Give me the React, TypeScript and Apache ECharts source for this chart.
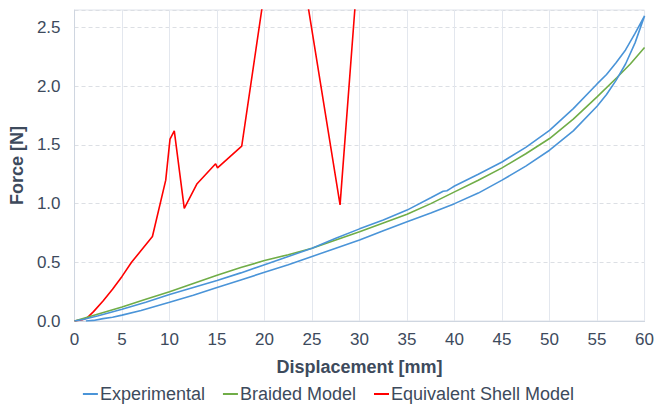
import React, { useEffect, useRef } from "react";
import * as echarts from "echarts";

// Experimental: loading branch (lower) then unloading branch (upper) back to origin
const experimentalLoading: [number, number][] = [
  [1.2, 0], [2, 0.005], [3, 0.02], [4, 0.032], [5, 0.05], [7, 0.09], [10, 0.16],
  [12.5, 0.22], [15, 0.285], [17.5, 0.35], [20, 0.415], [22.5, 0.48], [25, 0.55],
  [27.5, 0.62], [30, 0.69], [32.5, 0.77], [35, 0.845], [37.5, 0.92], [40, 1.0],
  [42.5, 1.09], [45, 1.2], [47.5, 1.32], [50, 1.455], [52.5, 1.62], [55, 1.83],
  [56, 1.93], [57, 2.05], [58, 2.19], [59, 2.37], [60, 2.6],
];
const experimentalUnloading: [number, number][] = [
  [60, 2.6], [59, 2.45], [58, 2.31], [57, 2.2], [56, 2.1], [55, 2.02], [52.5, 1.81],
  [50, 1.625], [47.5, 1.48], [45, 1.355], [42.5, 1.25], [40, 1.15], [39.6, 1.13],
  [39.2, 1.11], [38.8, 1.105], [37.5, 1.05], [35, 0.945], [32.5, 0.86], [30, 0.785],
  [27.5, 0.705], [25, 0.62], [22.5, 0.55], [20, 0.48], [17.5, 0.41], [15, 0.345],
  [12.5, 0.285], [10, 0.225], [7.5, 0.16], [5, 0.1], [2.5, 0.045], [1, 0.015], [0, 0],
];
const braidedModel: [number, number][] = [
  [0, 0], [2.5, 0.06], [5, 0.12], [7.5, 0.185], [10, 0.25], [12.5, 0.32], [15, 0.39],
  [17.5, 0.455], [20, 0.515], [22.5, 0.565], [25, 0.62], [27.5, 0.69], [30, 0.76],
  [32.5, 0.835], [35, 0.91], [37.5, 1.0], [40, 1.1], [42.5, 1.2], [45, 1.305],
  [47.5, 1.425], [50, 1.555], [52.5, 1.72], [55, 1.91], [57.1, 2.075], [58.5, 2.19],
  [60, 2.33],
];
const equivalentShellModel: [number, number][] = [
  [0, 0], [0.8, 0.01], [1.3, 0.025], [2, 0.08], [3, 0.17], [4, 0.27], [5, 0.38],
  [6, 0.5], [8.2, 0.72], [9.6, 1.2], [10.05, 1.55], [10.5, 1.62], [11.55, 0.96],
  [12.9, 1.17], [14.85, 1.34], [15.05, 1.305], [17.6, 1.49], [22.06, 3.95],
  [27.95, 0.99], [29.5, 2.65], [31, 4.26],
];

const seriesNames = ["Experimental", "Braided Model", "Equivalent Shell Model"];
const seriesColors = ["#4a94d8", "#70ad47", "#ff0000"];

export default function App() {
  const ref = useRef<HTMLDivElement>(null);
  useEffect(() => {
    if (!ref.current) return;
    const chart = echarts.init(ref.current, undefined, { renderer: "svg" });
    const labelColor = "#3d4a5c";
    const font = "Liberation Sans, Arial, sans-serif";
    const datasets = [
      [...experimentalLoading, ...experimentalUnloading],
      braidedModel,
      equivalentShellModel,
    ];
    chart.setOption({
      animation: false,
      grid: {
        left: 70, right: 11, top: 10, bottom: 89,
        show: true, borderColor: "#dfe3ea", borderWidth: 1,
      },
      legend: {
        bottom: 2,
        left: "center",
        icon: "rect",
        itemWidth: 15,
        itemHeight: 2,
        itemGap: 18,
        textStyle: { color: labelColor, fontSize: 18, fontFamily: font, padding: [0, 0, 0, -3] },
        data: seriesNames,
      },
      xAxis: {
        type: "value",
        min: 0, max: 60, interval: 5,
        name: "Displacement [mm]",
        nameLocation: "middle",
        nameGap: 37,
        nameTextStyle: { color: labelColor, fontSize: 18, fontWeight: "bold", fontFamily: font },
        axisLine: { show: true, lineStyle: { color: "#cfd6e0" } },
        axisTick: { show: false },
        axisLabel: { color: labelColor, fontSize: 17, fontFamily: font, margin: 10 },
        splitLine: { show: true, lineStyle: { color: "#e3e7ee", type: "solid" } },
      },
      yAxis: {
        type: "value",
        min: 0, max: 2.65, interval: 0.5,
        name: "Force [N]",
        nameLocation: "middle",
        nameGap: 46,
        nameTextStyle: { color: labelColor, fontSize: 18, fontWeight: "bold", fontFamily: font },
        axisLine: { show: true, lineStyle: { color: "#cfd6e0" } },
        axisTick: { show: false },
        axisLabel: {
          color: labelColor, fontSize: 17, fontFamily: font, margin: 14,
          showMaxLabel: false,
          formatter: (v: number) => v.toFixed(1),
        },
        splitLine: { show: true, lineStyle: { color: "#dcdfe4", type: [4, 3] } },
      },
      series: seriesNames.map((name, i) => ({
        name,
        type: "line",
        data: datasets[i],
        showSymbol: false,
        symbol: "none",
        clip: true,
        color: seriesColors[i],
        lineStyle: { width: 1.6, color: seriesColors[i] },
        z: 3 - i,
      })),
    });
    return () => chart.dispose();
  }, []);
  return <div ref={ref} style={{ width: 657, height: 410, position: "absolute", left: 0, top: 0 }} />;
}
